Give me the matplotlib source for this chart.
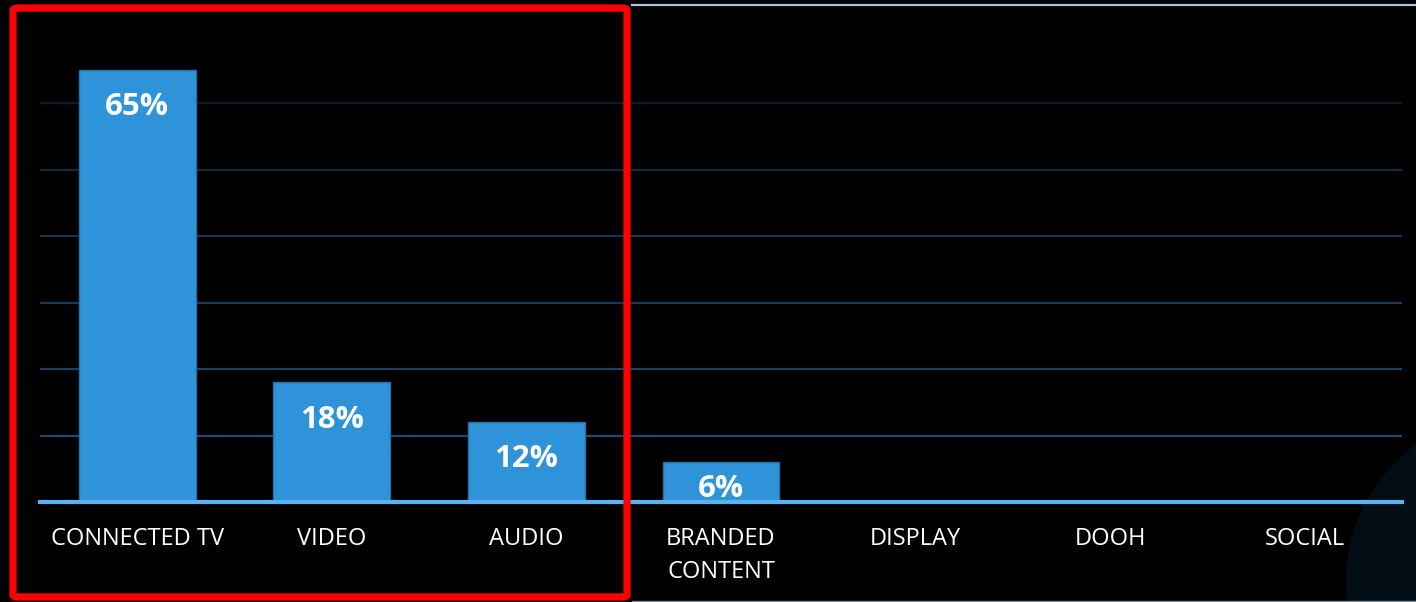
import numpy as np
import matplotlib.pyplot as plt
from matplotlib.patches import FancyBboxPatch, Circle
from matplotlib.lines import Line2D

categories = ['CONNECTED TV', 'VIDEO', 'AUDIO', 'BRANDED\nCONTENT', 'DISPLAY', 'DOOH', 'SOCIAL']
shares = [65, 18, 12, 6, 0, 0, 0]
grid_levels = [10, 20, 30, 40, 50, 60]

W, H = 1416, 602
BAR = '#2e93d8'
BASE = '#5cb2ee'

plt.rcParams['font.family'] = ['Open Sans', 'DejaVu Sans']

fig = plt.figure(figsize=(W / 100, H / 100), dpi=100, facecolor='black')

# faint disc in the lower right corner (inch coordinates keep it round)
fig.patches.append(Circle((15.11, 0.22), 1.65, transform=fig.dpi_scale_trans,
                          facecolor='#020d16', edgecolor='none', zorder=-1))

ax = fig.add_axes([40 / W, 100 / H, 1362 / W, 464 / H])
ax.set_facecolor('none')
ax.set_xlim(-0.5, len(categories) - 0.5)
ax.set_ylim(0, 464 / 6.65)

# gridlines get brighter toward the baseline
grid_cols = ['#1d4a70', '#1a4264', '#173a58', '#15344d', '#0f2a40', '#0a1c2a']
for lvl, c in zip(grid_levels, grid_cols):
    ax.axhline(lvl, color=c, lw=1.6, zorder=1)

x = np.arange(len(categories))
ax.bar(x, shares, width=0.6, color=BAR, edgecolor='#2470a8', linewidth=1.0, zorder=2)
ax.axhline(0, color=BASE, lw=3.0, zorder=3, clip_on=False)

for xi, v in zip(x, shares):
    if v > 0:
        ax.text(xi, max(v - 5.6, 2.0), f'{v}%', ha='center', va='center',
                color='white', fontsize=22.5, fontweight='bold', zorder=4)

ax.set_xticks(x)
ax.set_xticklabels(categories, color='white', fontsize=17, linespacing=1.5, va='top')
ax.tick_params(axis='x', length=0, pad=18)
ax.set_yticks([])
for s in ax.spines.values():
    s.set_visible(False)

# frame lines on the right part
fig.lines.append(Line2D([632 / W, 1], [1 - 5 / H, 1 - 5 / H], transform=fig.transFigure,
                        color='#a9c6de', lw=1.6))
fig.lines.append(Line2D([632 / W, 1], [1 - 601 / H, 1 - 601 / H], transform=fig.transFigure,
                        color='#7a8a96', lw=1.0))

# highlight box around the first three channels
fig.patches.append(FancyBboxPatch((13 / W, 1 - 597 / H), 614 / W, 589 / H,
                                  boxstyle='round,pad=0,rounding_size=0.004',
                                  transform=fig.transFigure, facecolor='none',
                                  edgecolor='#ff0000', lw=5.2, zorder=10))

fig.savefig('out.png', dpi=100, facecolor='black')
